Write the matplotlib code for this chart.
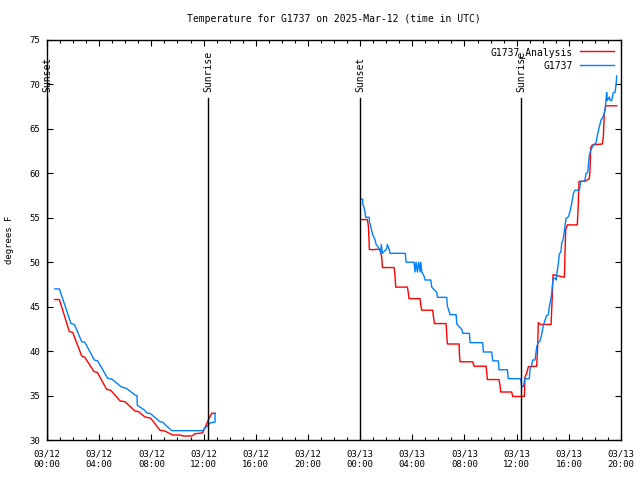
import numpy as np
import matplotlib
matplotlib.use("Agg")
import matplotlib.pyplot as plt
from matplotlib.ticker import MultipleLocator, FixedLocator

# hours since 03/12 00:00 UTC, temperatures in degrees F
analysis_hr_night1 = [0.6, 0.95, 1.71, 1.97, 2.66, 2.9, 3.6, 3.86, 4.57, 4.88, 5.6, 5.98,
                      6.75, 7.0, 7.5, 7.95, 8.66, 9.05, 9.63, 10.2, 10.45, 11.1, 11.35,
                      11.93, 12.37, 12.62, 12.88]
analysis_t_night1 = [45.8, 45.8, 42.2, 42.1, 39.45, 39.3, 37.7, 37.6, 35.7, 35.6, 34.4, 34.3,
                     33.26, 33.2, 32.6, 32.45, 31.1, 31.0, 30.56, 30.56, 30.45, 30.45, 30.7,
                     30.8, 32.25, 33.0, 33.0]

obs_hr_night1 = [0.6, 0.95, 1.84, 2.1, 2.66, 2.9, 3.63, 3.88, 4.65, 4.96, 5.67, 6.1, 6.75,
                 6.9, 6.92, 7.4, 7.7, 7.9, 8.66, 8.87, 9.56, 11.93, 12.5, 12.75, 12.88, 12.88]
obs_t_night1 = [47.0, 47.0, 43.1, 43.0, 41.06, 41.0, 39.0, 38.9, 36.94, 36.86, 36.0, 35.8,
                35.06, 35.0, 33.9, 33.45, 33.0, 33.0, 32.06, 32.0, 31.05, 31.05, 31.9, 32.0,
                32.0, 33.0]

analysis_hr_day2 = [24.05, 24.56, 24.64, 24.69, 24.71, 24.97, 25.23, 25.53, 25.66, 25.71,
                    26.61, 26.68, 26.73, 27.63, 27.70, 27.75, 28.6, 28.65, 28.73, 29.57,
                    29.62, 29.7, 30.59, 30.64, 30.69, 31.59, 31.61, 31.66, 32.61, 32.69,
                    32.74, 33.66, 33.71, 33.76, 34.65, 34.73, 34.78, 35.62, 35.70, 36.59,
                    36.64, 36.77, 36.90, 37.54, 37.61, 37.66, 37.84, 38.64, 38.74, 38.79,
                    39.66, 39.71, 39.76, 39.89, 40.65, 40.73, 40.78, 41.24, 41.57, 41.62,
                    41.68, 41.8, 42.57, 42.65, 42.72, 42.83, 43.67]
analysis_t_day2 = [54.8, 54.8, 54.0, 52.2, 51.45, 51.4, 51.45, 51.45, 50.55, 49.4,
                   49.4, 48.4, 47.2, 47.2, 46.5, 45.9, 45.9, 45.2, 44.6, 44.6,
                   43.9, 43.1, 43.1, 42.0, 40.8, 40.8, 39.75, 38.8, 38.8, 38.55,
                   38.3, 38.3, 37.6, 36.8, 36.8, 36.1, 35.4, 35.4, 34.9, 34.9,
                   37.1, 37.5, 38.25, 38.3, 40.5, 43.2, 43.0, 43.0, 46.5, 48.6,
                   48.3, 51.1, 53.7, 54.2, 54.2, 56.7, 59.1, 59.1, 59.4, 60.2,
                   62.9, 63.2, 63.3, 64.2, 66.75, 67.6, 67.6]

obs_hr_day2 = [24.05, 24.20, 24.20, 24.31, 24.38, 24.43, 24.71, 24.71, 24.82, 24.89, 24.97,
               25.15, 25.23, 25.48, 25.58, 25.63, 25.71, 26.04, 26.09, 26.22, 26.30, 27.47,
               27.52, 28.14, 28.21, 28.29, 28.39, 28.49, 28.6, 28.65, 28.73, 28.9, 28.98,
               29.42, 29.49, 29.88, 29.93, 30.64, 30.69, 30.9, 31.36, 31.41, 31.79, 31.87,
               32.38, 32.43, 33.4, 33.45, 34.09, 34.17, 34.6, 34.65, 35.29, 35.36, 36.31,
               36.39, 36.51, 36.57, 36.64, 36.97, 37.03, 37.15, 37.23, 37.41, 37.49, 37.54,
               37.66, 37.79, 37.92, 38.05, 38.18, 38.30, 38.43, 38.51, 38.61, 38.69, 38.74,
               38.81, 38.94, 39.02, 39.12, 39.20, 39.27, 39.40, 39.45, 39.58, 39.66, 39.78,
               39.96, 40.09, 40.22, 40.35, 40.47, 40.81, 40.91, 41.11, 41.24, 41.32, 41.45,
               41.57, 41.68, 41.88, 42.08, 42.19, 42.31, 42.47, 42.60, 42.70, 42.80, 42.90,
               42.95, 43.11, 43.16, 43.29, 43.41, 43.54, 43.62, 43.67]
obs_t_day2 = [57.1, 57.1, 56.6, 56.1, 55.6, 55.05, 55.05, 54.6, 54.0, 53.55, 53.1,
              52.5, 52.0, 51.5, 51.0, 52.0, 51.0, 51.5, 52.0, 51.5, 51.0, 51.0,
              50.0, 50.0, 48.9, 50.0, 48.9, 50.0, 48.9, 50.0, 48.9, 48.45, 48.0,
              48.0, 47.2, 46.6, 46.05, 46.05, 45.1, 44.1, 44.1, 43.05, 42.45, 42.0,
              42.0, 40.95, 40.95, 39.9, 39.9, 38.9, 38.9, 37.9, 37.9, 36.9, 36.9,
              36.0, 36.0, 36.4, 36.9, 36.9, 38.0, 38.4, 39.0, 39.0, 39.9, 40.5,
              41.0, 41.1, 41.9, 42.9, 43.5, 44.0, 44.1, 45.0, 45.75, 46.5, 47.4,
              48.2, 48.2, 48.0, 49.1, 49.9, 50.9, 51.2, 52.1, 52.7, 53.6, 54.9,
              55.1, 55.7, 56.6, 57.75, 58.1, 58.1, 59.1, 59.1, 59.25, 60.0, 60.1,
              62.0, 62.6, 63.2, 63.4, 64.3, 65.06, 66.0, 66.3, 66.6, 67.4, 69.1,
              68.2, 68.6, 68.2, 68.2, 69.1, 69.1, 69.9, 70.95]

sun_events = ["Sunset", "Sunrise", "Sunset", "Sunrise"]
sun_hours = [0.0, 12.34, 23.99, 36.34]

tick_hours = list(range(0, 45, 4))
tick_labels = ["03/12\n00:00", "03/12\n04:00", "03/12\n08:00", "03/12\n12:00",
               "03/12\n16:00", "03/12\n20:00", "03/13\n00:00", "03/13\n04:00",
               "03/13\n08:00", "03/13\n12:00", "03/13\n16:00", "03/13\n20:00"]

MONO = "DejaVu Sans Mono"

fig = plt.figure(figsize=(6.4, 4.8), dpi=100)
ax = fig.add_axes([47 / 640, 40 / 480, 574 / 640, 400 / 480])

an_x = analysis_hr_night1 + [np.nan] + analysis_hr_day2
an_y = analysis_t_night1 + [np.nan] + analysis_t_day2
ob_x = obs_hr_night1 + [np.nan] + obs_hr_day2
ob_y = obs_t_night1 + [np.nan] + obs_t_day2

ax.plot(an_x, an_y, color="#ff0000", lw=1.0, label="G1737_Analysis")
ax.plot(ob_x, ob_y, color="#0080ff", lw=1.0, label="G1737")

for name, h in zip(sun_events, sun_hours):
    ax.plot([h, h], [30, 68.5], color="black", lw=1.0)
    ax.text(h, 69.1, name, rotation=90, ha="center", va="bottom",
            fontsize=7, family=MONO)

ax.set_xlim(0, 44)
ax.set_ylim(30, 75)
ax.xaxis.set_major_locator(FixedLocator(tick_hours))
ax.set_xticklabels(tick_labels)
ax.xaxis.set_minor_locator(MultipleLocator(1))
ax.yaxis.set_major_locator(MultipleLocator(5))

ax.tick_params(which="both", direction="in", top=True, right=True, width=0.8,
               labelsize=6.5)
ax.tick_params(which="major", length=4)
ax.tick_params(which="minor", length=2)
ax.tick_params(axis="x", pad=7)
ax.tick_params(axis="y", pad=5)
for lbl in ax.get_xticklabels() + ax.get_yticklabels():
    lbl.set_family(MONO)

for s in ax.spines.values():
    s.set_linewidth(1.0)

ax.set_ylabel("degrees F", fontsize=6.5, family=MONO)
ax.yaxis.set_label_coords(-0.057, 0.5)
ax.set_title("Temperature for G1737 on 2025-Mar-12 (time in UTC)",
             fontsize=7, family=MONO, pad=13)

ax.legend(loc="upper right", frameon=False, markerfirst=False,
          prop={"family": MONO, "size": 7}, handlelength=3.5,
          handletextpad=0.8, labelspacing=0.3, borderaxespad=0.3)

fig.savefig("out.png", dpi=100)
